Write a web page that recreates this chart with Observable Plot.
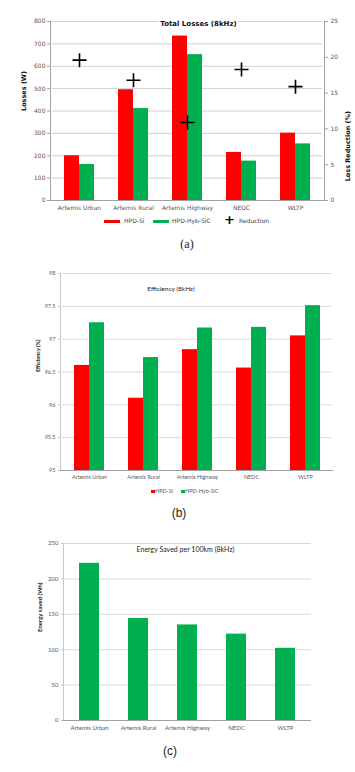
<!DOCTYPE html>
<html><head><meta charset="utf-8">
<script src="https://cdn.jsdelivr.net/npm/d3@7"></script>
<script src="https://cdn.jsdelivr.net/npm/@observablehq/plot@0.6"></script>
<style>
body{margin:0;background:#fff;}
#root{position:relative;width:355px;height:772px;overflow:hidden;background:#fff;}
#root svg{position:absolute;left:0;}
.abs{position:absolute;white-space:nowrap;}
.lgA{font-family:'DejaVu Sans',Verdana,sans-serif;font-size:6px;color:#444;}
.lgB{font-family:Lato,'Open Sans',sans-serif;font-size:5.5px;color:#595959;}
.cap{font-size:12px;color:#222;transform:translateX(-50%);}
</style></head>
<body><div id="root"></div>
<script>
const categories = ["Artemis Urban","Artemis Rural","Artemis Highway","NEDC","WLTP"];
const series = ["HPD-Si","HPD-Hyb-SiC"];
const lossesSi = [200,495,735,215,301];
const lossesSiC = [161,411,652,176,253];
const reduction = [19.6,16.8,10.9,18.3,15.9];
const effSi = [96.60,96.10,96.84,96.56,97.05];
const effSiC = [97.25,96.72,97.17,97.18,97.51];
const energySaved = [222,144,135,122,102];
const lossTicks = [0,100,200,300,400,500,600,700,800];
const reductionTicks = [0,5,10,15,20,25];
const effTicks = [95,95.5,96,96.5,97,97.5,98];
const energyTicks = [0,50,100,150,200,250];

const RED = "#ff0000", GREEN = "#00b050";
const root = document.getElementById("root");
function place(svg, top){ svg.style.top = top + "px"; root.appendChild(svg); }
const plain = d => String(d);

const lossRows = categories.flatMap((c,i)=>[{cat:c,s:series[0],v:lossesSi[i]},{cat:c,s:series[1],v:lossesSiC[i]}]);
const redRows = categories.map((c,i)=>({cat:c,v:reduction[i]}));
const effRows = categories.flatMap((c,i)=>[{cat:c,s:series[0],v:effSi[i]},{cat:c,s:series[1],v:effSiC[i]}]);
const energyRows = categories.map((c,i)=>({cat:c,v:energySaved[i]}));
const colorScale = {domain:series, range:[RED,GREEN]};

// ---------- Panel (a) ----------
const A = {width:355, height:215, marginTop:21, marginBottom:15, marginLeft:50, marginRight:31};
const fontA = {fontFamily:"'DejaVu Sans',Verdana,sans-serif", fontSize:"6px", color:"#555", background:"transparent", overflow:"visible"};
const aBars = Plot.plot({...A, style:fontA,
  fx:{domain:categories, padding:0, axis:null},
  x:{domain:series, paddingInner:0, paddingOuter:0.77, axis:null},
  y:{domain:[0,800], axis:null},
  color:colorScale,
  marks:[
    Plot.gridY(lossTicks,{stroke:"#d0d0d0", strokeOpacity:1}),
    Plot.barY(lossRows,{fx:"cat", x:"s", y:"v", fill:"s"})
  ]});
place(aBars, 0);
const aTop = Plot.plot({...A, style:fontA,
  x:{type:"band", domain:categories, padding:0, axis:null},
  y:{domain:[0,25], axis:null},
  marks:[
    Plot.frame({anchor:"left", stroke:"#a0a0a0"}),
    Plot.frame({anchor:"right", stroke:"#a0a0a0"}),
    Plot.ruleY([0],{stroke:"#a0a0a0"}),
    Plot.axisY(reductionTicks,{anchor:"right", tickSize:3, tickPadding:3, label:null, stroke:"#a0a0a0"}),
    Plot.axisX({anchor:"bottom", tickSize:0, tickPadding:5, label:null}),
    Plot.dot(redRows,{x:"cat", y:"v", symbol:"plus", r:4.6, stroke:"#000", strokeWidth:1.6}),
    Plot.text(["Total Losses (8kHz)"],{text:d=>d, frameAnchor:"top", dx:11, dy:0, fontWeight:"bold", fontSize:7, fill:"#111", stroke:"white", strokeWidth:4}),
    Plot.text(["Losses (W)"],{text:d=>d, frameAnchor:"left", rotate:-90, dx:-27, fontWeight:"bold", fontSize:6.5, fill:"#111"}),
    Plot.text(["Loss Reduction (%)"],{text:d=>d, frameAnchor:"right", rotate:-90, dx:23, fontWeight:"bold", fontSize:6.5, fill:"#111"})
  ]});
place(aTop, 0);
const aAxis = Plot.plot({...A, style:fontA,
  y:{domain:[0,800], axis:null},
  marks:[Plot.axisY(lossTicks,{anchor:"left", tickSize:3, tickPadding:2, label:null, stroke:"#a0a0a0"})]});
place(aAxis, 0);

// ---------- Panel (b) ----------
const B = {width:355, height:226, marginTop:11, marginBottom:18, marginLeft:60, marginRight:22};
const fontB = {fontFamily:"Lato,'Open Sans',sans-serif", fontSize:"5.5px", color:"#595959", background:"transparent", overflow:"visible"};
const bBars = Plot.plot({...B, style:fontB,
  fx:{domain:categories, padding:0, axis:null},
  x:{domain:series, paddingInner:0, paddingOuter:0.77, axis:null},
  y:{domain:[95,98], axis:null},
  color:colorScale,
  marks:[
    Plot.gridY(effTicks,{stroke:"#d9d9d9", strokeOpacity:1}),
    Plot.barY(effRows,{fx:"cat", x:"s", y1:95, y2:"v", fill:"s"})
  ]});
place(bBars, 262);
const bTop = Plot.plot({...B, style:fontB,
  x:{type:"band", domain:categories, padding:0, axis:null},
  y:{domain:[95,98], axis:null},
  marks:[
    Plot.frame({anchor:"left", stroke:"#c8c8c8"}),
    Plot.ruleY([95],{stroke:"#a0a0a0"}),
    Plot.axisY(effTicks,{anchor:"left", tickSize:2, tickPadding:3, label:null, stroke:"#c8c8c8", tickFormat:plain}),
    Plot.axisX({anchor:"bottom", tickSize:0, tickPadding:5, label:null}),
    Plot.text(["Efficiency (8kHz)"],{text:d=>d, frameAnchor:"top", dx:-26, dy:13, fontSize:6.5, fill:"#222"}),
    Plot.text(["Efficiency (%)"],{text:d=>d, frameAnchor:"left", rotate:-90, dx:-22, fontSize:5.5, fontWeight:"bold", fill:"#222"})
  ]});
place(bTop, 262);

// ---------- Panel (c) ----------
const C = {width:355, height:205, marginTop:10, marginBottom:18, marginLeft:63, marginRight:44};
const fontC = {fontFamily:"Lato,'Open Sans',sans-serif", fontSize:"6px", color:"#595959", background:"transparent", overflow:"visible"};
const cPlot = Plot.plot({...C, style:fontC,
  x:{domain:categories, paddingInner:0.6, paddingOuter:0.3, axis:null},
  y:{domain:[0,250], axis:null},
  marks:[
    Plot.gridY(energyTicks,{stroke:"#d9d9d9", strokeOpacity:1}),
    Plot.frame({anchor:"left", stroke:"#c8c8c8"}),
    Plot.barY(energyRows,{x:"cat", y:"v", fill:GREEN}),
    Plot.ruleY([0],{stroke:"#a0a0a0"}),
    Plot.axisY(energyTicks,{anchor:"left", tickSize:2, tickPadding:3, label:null, stroke:"#c8c8c8"}),
    Plot.axisX({anchor:"bottom", tickSize:0, tickPadding:5, label:null}),
    Plot.text(["Energy Saved per 100km (8kHz)"],{text:d=>d, frameAnchor:"top", dx:-2, dy:3.5, fontSize:7, fill:"#222", stroke:"white", strokeWidth:3}),
    Plot.text(["Energy saved (Wh)"],{text:d=>d, frameAnchor:"left", rotate:-90, dx:-23, fontSize:6, fontWeight:"bold", fill:"#222"})
  ]});
place(cPlot, 533);

// ---------- legends & captions ----------
function div(cls, left, top, html){ const d=document.createElement("div"); d.className="abs "+cls; d.style.left=left+"px"; d.style.top=top+"px"; d.innerHTML=html; root.appendChild(d); return d; }
div("", 104, 220, `<div style="width:16px;height:3px;background:${RED}"></div>`);
div("lgA", 124, 217, series[0]);
div("", 153, 220, `<div style="width:16px;height:3px;background:${GREEN}"></div>`);
div("lgA", 172, 217, series[1]);
div("", 224, 213, `<div style="font:bold 13px 'DejaVu Sans';color:#000;line-height:13px">+</div>`);
div("lgA", 239, 217, "Reduction");
div("", 151, 489.5, `<div style="width:3.5px;height:3.5px;background:${RED}"></div>`);
div("lgB", 155, 487.5, series[0]);
div("", 181, 489.5, `<div style="width:3.5px;height:3.5px;background:${GREEN}"></div>`);
div("lgB", 185, 487.5, series[1]);
div("cap", 187, 237, "(a)").style.fontFamily = "'Liberation Serif',serif";
div("cap", 179, 506, "(b)").style.fontFamily = "'Liberation Sans',sans-serif";
div("cap", 170, 744, "(c)").style.fontFamily = "'Liberation Sans',sans-serif";
</script>
</body></html>
